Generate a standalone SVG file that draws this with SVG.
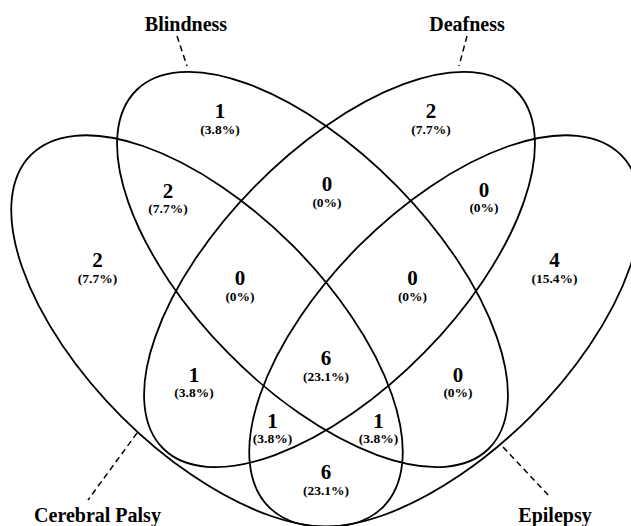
<svg xmlns="http://www.w3.org/2000/svg" width="631" height="526" viewBox="0 0 631 526">
<style>
.ell{fill:none;stroke:#000;stroke-width:1.8}
.lead{fill:none;stroke:#000;stroke-width:1.5;stroke-dasharray:6,4}
.cat{font-family:"Liberation Serif","Times New Roman",serif;font-weight:bold;font-size:20px;text-anchor:middle;fill:#000}
.n{font-family:"Liberation Serif","Times New Roman",serif;font-weight:bold;font-size:21px;text-anchor:middle;fill:#000}
.p{font-family:"Liberation Serif","Times New Roman",serif;font-weight:bold;font-size:13.5px;text-anchor:middle;fill:#000}
</style>
<rect width="631" height="526" fill="#fff"/>
<g id="connectors">
<line class="lead" x1="177" y1="36" x2="187" y2="66"/>
<line class="lead" x1="467" y1="36" x2="459" y2="66"/>
<line class="lead" x1="137" y1="433" x2="88" y2="500"/>
<line class="lead" x1="503" y1="447" x2="550" y2="497"/>
</g>
<g id="cerebral-palsy">
<ellipse class="ell" cx="207" cy="331" rx="249" ry="121" transform="rotate(45 207 331)"/>
<text class="cat" x="97.5" y="522">Cerebral Palsy</text>
</g>
<g id="blindness">
<ellipse class="ell" cx="312.5" cy="269.5" rx="251.3" ry="118.7" transform="rotate(45.5 312.5 269.5)"/>
<text class="cat" x="186" y="31">Blindness</text>
</g>
<g id="deafness">
<ellipse class="ell" cx="339.5" cy="269.5" rx="251.3" ry="118.7" transform="rotate(-45.5 339.5 269.5)"/>
<text class="cat" x="467" y="31">Deafness</text>
</g>
<g id="epilepsy">
<ellipse class="ell" cx="445" cy="331" rx="249" ry="121" transform="rotate(-45 445 331)"/>
<text class="cat" x="555" y="522">Epilepsy</text>
</g>
<g id="region-labels">
<text class="n" x="220" y="118">1</text><text class="p" x="220" y="134">(3.8%)</text>
<text class="n" x="431" y="118">2</text><text class="p" x="431" y="134">(7.7%)</text>
<text class="n" x="168" y="198">2</text><text class="p" x="168" y="213">(7.7%)</text>
<text class="n" x="327" y="191">0</text><text class="p" x="327" y="207">(0%)</text>
<text class="n" x="484" y="197">0</text><text class="p" x="484" y="212">(0%)</text>
<text class="n" x="97.5" y="267">2</text><text class="p" x="97.5" y="283">(7.7%)</text>
<text class="n" x="554.5" y="267">4</text><text class="p" x="554.5" y="283">(15.4%)</text>
<text class="n" x="240" y="285">0</text><text class="p" x="240" y="301">(0%)</text>
<text class="n" x="412.5" y="285">0</text><text class="p" x="412.5" y="301">(0%)</text>
<text class="n" x="194" y="382">1</text><text class="p" x="194" y="397">(3.8%)</text>
<text class="n" x="326" y="365">6</text><text class="p" x="326" y="381">(23.1%)</text>
<text class="n" x="458" y="382">0</text><text class="p" x="458" y="397">(0%)</text>
<text class="n" x="272.5" y="428">1</text><text class="p" x="272.5" y="443">(3.8%)</text>
<text class="n" x="378.5" y="428">1</text><text class="p" x="378.5" y="443">(3.8%)</text>
<text class="n" x="326" y="479">6</text><text class="p" x="326" y="495">(23.1%)</text>
</g>
</svg>
